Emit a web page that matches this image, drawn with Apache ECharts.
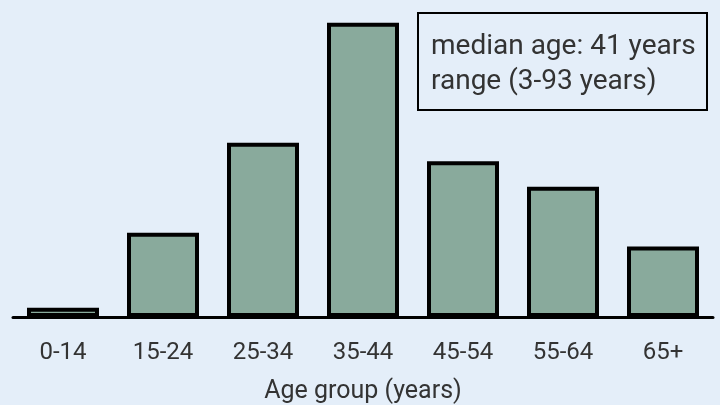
<!DOCTYPE html>
<html>
<head>
<meta charset="utf-8">
<script src="https://cdn.jsdelivr.net/npm/echarts@6/dist/echarts.min.js"></script>
<style>
html,body{margin:0;padding:0;background:#e4eef9;}
#chart{width:720px;height:405px;}
</style>
</head>
<body>
<div id="chart"></div>
<script>
const categories = ['0-14','15-24','25-34','35-44','45-54','55-64','65+'];
const shares = [1.0, 9.2, 19.0, 32.1, 17.0, 14.2, 7.7];
const axisTitle = 'Age group (years)';
const noteLines = ['median age: 41 years', 'range (3-93 years)'];

const chart = echarts.init(document.getElementById('chart'));
chart.setOption({
  backgroundColor: '#e4eef9',
  animation: false,
  textStyle: {fontFamily: 'Roboto'},
  grid: {left: 13, right: 7, top: 20, bottom: 88, containLabel: false, outerBoundsMode: 'none'},
  xAxis: {
    type: 'category',
    data: categories,
    axisLine: {lineStyle: {color: '#000', width: 3}},
    axisTick: {alignWithLabel: true, length: 18, lineStyle: {color: '#000', width: 2}},
    axisLabel: {color: '#333', fontSize: 24, margin: 24, fontFamily: 'Roboto'},
    name: axisTitle,
    nameLocation: 'middle',
    nameGap: 62,
    nameTextStyle: {color: '#333', fontSize: 25, fontFamily: 'Roboto'}
  },
  yAxis: {
    type: 'value', min: 0, max: 32.4, show: false,
    splitLine: {show: false}
  },
  series: [{
    type: 'bar',
    data: shares,
    barWidth: 72,
    itemStyle: {color: '#89aa9c', borderColor: '#000', borderWidth: 4}
  }],
  graphic: [{
    type: 'group', left: 417, top: 12,
    children: [
      {type: 'rect', shape: {x: 0, y: 0, width: 289, height: 97},
       style: {fill: '#e4eef9', stroke: '#000', lineWidth: 2}},
      {type: 'text', x: 13, y: 16,
       style: {text: noteLines.join('\n'), fill: '#333', font: '28px Roboto', lineHeight: 35}}
    ]
  }]
});
</script>
</body>
</html>
